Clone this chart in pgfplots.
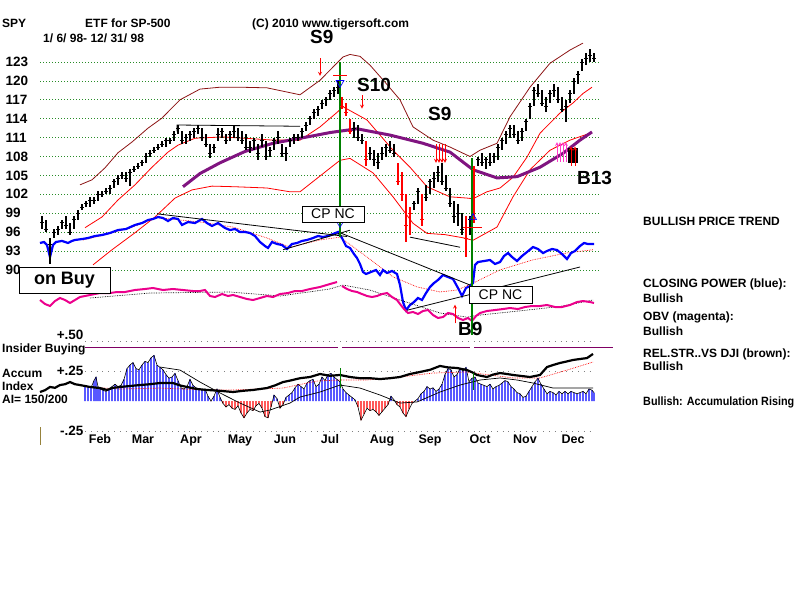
\documentclass[border=0pt]{standalone}
\usepackage{pgfplots}
\pgfplotsset{compat=1.18}
\usepackage{pgfplotstable}
\usepackage{fontspec}
\setmainfont{Liberation Sans}
\definecolor{brownband}{RGB}{140,20,20}
\definecolor{gridgreen}{RGB}{40,140,40}
\definecolor{mapurple}{RGB}{128,20,128}
\definecolor{insider}{RGB}{128,0,100}
\definecolor{sig}{RGB}{0,128,0}
\definecolor{olivebar}{RGB}{150,130,60}
\definecolor{pinkarrow}{RGB}{255,60,200}
\newcommand{\fs}[1]{\fontsize{#1}{#1}\selectfont}

% price bars: x high low close (x = horizontal chart position)
\pgfplotstableread{
x h l c
42 98.5 96.5 97.5
46 98 96 96.5
50 95 91 94
54 96.5 95 96
58 97 95.5 96.5
62 98 96.5 97.5
66 98.5 96.5 97
70 97.5 95.5 96
74 98.5 96.5 98
78 99.5 98 99
82 100.5 99.5 100
86 101 100 100.5
90 101.5 100 101
94 101.5 100.5 101
98 102.5 101 102
102 102.5 101.5 102
106 103 102 102.5
110 103.5 102 103
114 104.5 103 104
118 105 103.5 104.5
122 105.5 104.5 105
126 105.5 104 104.5
130 106 103.3 105.5
134 106.5 105.5 106
138 107 106 106.5
142 107.5 106.5 107
146 108.5 107 108
150 109 108 108.5
154 109.5 108.5 109
158 110 109 109.5
162 110.5 109.5 110
166 111 109.5 110.5
170 111 110 110.5
174 112 110.5 111.5
178 113 111.5 112.5
182 112 110 110.5
186 111.5 110 111
190 112 110.5 111.5
194 112.5 111 112
198 113 111.5 112.5
202 112.5 110.5 111
206 111.5 109.5 110
210 110 107.8 108.5
214 110 108.5 109.5
218 112.5 110.5 111.5
222 112.5 111 112
226 111.5 110 110.5
230 112 110.5 111.5
234 113 111 112
238 112.5 110.5 111
242 112 110 110.5
246 111.5 109 109.5
250 110.5 108.5 109.5
254 111 109 110.5
258 110 107.5 108.5
262 111.5 109.5 110.5
266 110.5 107.5 108
270 109.5 108 109
274 111 109 110.5
278 112 110 111
282 110 108 108.5
286 109.5 107.3 108.5
290 111 109.5 110.5
294 111.5 110 111
298 111.5 110.5 111
302 112.5 111 112
306 113.5 112 113
310 114.5 113 114
314 115.5 114 115
318 116 114.5 115.5
322 117 115.5 116.5
326 117.5 116 117
330 118.5 117 118
334 119 117.5 118.5
338 120 118 119
354 113.5 111 112.5
358 113 110.5 111
362 111.5 110 110.5
370 109.5 107.5 108.5
374 109 106.5 107.5
378 108.5 106 107
382 109.5 107.5 108.5
386 110 108 109.5
390 110.5 108.5 109
394 110 108 108.5
414 101 99.5 100.5
418 103 100.5 102.5
426 103.5 101 101.5
430 104.5 102 104
434 105.5 103 104.5
438 106.5 104 105.5
442 107 103.5 104
446 105 102.5 103
450 103 100 100.5
454 101 97.5 98.5
458 100.5 97 99
462 99 95.5 96.5
470 98.5 95.5 98
478 108 106.5 107.5
482 108.5 106.5 107
486 108 106 107.5
490 108.5 106.5 107
494 108.5 107 108
498 110 107.5 109.5
502 111 109 110.5
506 112 110 111.5
510 113 111 112.5
514 113 111 111.5
518 112 110 110.5
522 112.5 110.5 112
526 114 112 113.5
530 116.5 114 116
534 119 116 118.5
538 119.5 117.5 118
542 118.5 116 116.5
546 117.5 115 116
550 118.5 116.5 118
554 119.5 117.5 118.5
558 119 116.5 117
562 117.5 115 115.5
566 117 113.5 116
570 118.5 116.5 118
574 120.5 118 120
578 121.5 119.5 121
582 123.5 121.5 123
586 124.5 122.5 123.5
590 125 123 124
594 124.5 123 123.5
}\blackbars

\pgfplotstableread{
x h l c
342 117.5 115.5 116
346 116.5 114.5 115
350 114 111.5 112
366 110.5 106.5 107.5
398 107 103.5 104
402 105.5 101 102
406 102 94.5 97
410 100 95.5 99
422 102 97 98
466 98.5 92 95
474 106.5 97.5 106
}\redbars

% closing power (blue)
\pgfplotstableread{
x y
40 94.27
44 94.43
47 93.95
50 92.05
53 93.95
56 94.43
62 94.6
68 94.27
72 94.6
75 94.75
82 94.9
88 95.06
95 95.38
102 95.54
110 95.86
118 96.33
126 96.49
135 97.13
142 97.44
148 97.92
153 98.08
158 98.4
163 98.24
168 97.76
173 98.24
178 98.08
182 97.13
188 97.6
195 97.44
202 98.08
207 97.44
212 96.97
218 97.44
225 96.65
230 96.33
235 96.49
240 96.02
245 96.02
250 95.86
255 95.38
260 94.43
265 93.79
268 93.48
272 94.43
277 94.11
282 93.95
287 93.32
292 94.11
297 94.27
302 94.6
307 94.75
313 95.06
318 95.38
323 95.22
328 95.38
333 95.7
338 96.02
342 95.06
346 93.79
350 93.48
354 92.52
357 91.89
360 90.94
363 89.67
366 89.35
371 89.67
376 89.98
380 89.19
383 89.98
387 89.51
392 89.83
397 89.35
400 87.6
403 84.9
406 83.6
410 84.43
414 84.9
418 85.54
422 85.22
426 86.33
430 87.29
434 87.92
438 88.4
443 89.19
448 88.87
453 88.56
458 87.13
462 85.86
466 87.13
470 87.44
473 87.92
475 90.78
478 91.25
484 91.41
490 91.57
495 90.94
500 91.25
504 92.2
508 92.68
512 92.05
517 91.41
522 92.2
527 92.84
533 93.63
538 93.32
543 92.68
547 93.0
552 93.32
557 93.16
562 92.52
567 91.73
571 92.68
575 93.0
580 93.79
584 94.27
588 94.11
594 94.11
}\cpline

% accumulation index histogram
\pgfplotstableread{
x y
85 .13
88 .12
91 .11
94 .17
96 .2
98 .12
100 .1
103 .09
106 .08
109 .1
112 .12
115 .14
118 .12
121 .13
124 .18
127 .27
130 .3
133 .32
136 .27
139 .26
142 .3
145 .33
148 .32
151 .36
154 .38
157 .3
160 .28
163 .26
166 .22
169 .19
172 .2
175 .23
178 .17
181 .11
184 .1
187 .12
190 .18
193 .13
196 .11
199 .1
202 .09
205 .1
208 .04
211 0.0
214 .04
217 .1
220 .03
223 -.02
226 -.05
229 -.03
232 -.06
235 -.07
238 -.04
241 -.1
244 -.14
247 -.1
250 -.07
253 -.08
256 -.04
259 -.02
262 -.06
265 -.13
268 -.14
271 -.05
274 .05
277 .02
280 -.06
283 -.03
286 .03
289 .05
292 .07
295 .11
298 .14
301 .12
304 .1
307 .15
310 .17
313 .18
316 .12
319 .14
322 .2
325 .17
328 .22
331 .23
334 .2
337 .18
340 .16
343 .1
346 .07
349 .05
352 .03
355 .01
358 -.05
361 -.16
364 -.11
367 -.06
370 -.08
373 -.07
376 -.09
379 -.12
382 -.09
385 -.06
388 -.03
391 .04
394 .01
397 -.03
400 -.05
403 -.1
406 -.13
409 -.07
412 -.02
415 0.0
418 .02
421 .06
424 .08
427 .12
430 .1
433 .11
436 .08
439 .1
442 .14
445 .22
448 .27
451 .26
454 .2
457 .22
460 .27
463 .25
466 .28
469 .16
472 .19
475 .2
478 .15
481 .14
484 .13
487 .12
490 .14
493 .1
496 .12
499 .13
502 .15
505 .17
508 .16
511 .12
514 .1
517 .07
520 .06
523 .03
526 .04
529 .08
532 .12
535 .16
538 .19
541 .14
544 .1
547 .06
550 .08
553 .07
556 .05
559 .08
562 .06
565 .08
568 .06
571 .08
574 .07
577 .06
580 .07
583 .08
586 .06
589 .1
592 .09
594 .07
}\aidata

\begin{document}
\begin{tikzpicture}
\useasboundingbox (0pt,0pt) rectangle (800pt,-600pt);

%%%%%%%% price panel
\begin{axis}[at={(40pt,-332.9pt)}, anchor=south west, scale only axis,
  width=560pt, height=296.1pt, xmin=40, xmax=600, ymin=80, ymax=127,
  clip=false, axis line style={draw=none}, major tick length=0pt,
  xtick=\empty, ytick={90,93,...,123},
  yticklabels={90,93,96,99,102,105,108,111,114,117,120,123},
  yticklabel style={font=\fs{13.5}\bfseries, anchor=west, xshift=-38pt},
  ymajorgrids, grid style={gridgreen, line width=0.8pt, dash pattern=on 0.8pt off 2.2pt}]

% bands
\addplot[brownband, line width=0.8pt] coordinates {
(80,103.5) (92,104.3) (105,106.2) (118,108.6) (132,110.3) (148,112.5) (162,114.1)
(170,115.4) (180,117) (200,118.7) (220,119) (240,119) (267,118.9) (285,118.3)
(300,117.8) (320,120.1) (333,122.2) (343,123.8) (350,124.2) (360,123.9) (370,122.5)
(385,119.8) (400,117) (413,112.7) (433,110.6) (450,109.5) (470,108) (480,109)
(497,110.1) (510,114.3) (530,119) (550,122.8) (570,124.9) (583,126)};
\addplot[red, line width=0.8pt] coordinates {
(85,96.7) (102,98.4) (118,101.1) (135,103.5) (152,106.3) (168,108.7) (178,109.8)
(195,110.9) (222,111.1) (245,110.9) (273,110.6) (300,110.6) (320,112.7) (337,115)
(343,115.9) (367,113.8) (393,109) (410,106.3) (427,103.2) (450,101.6) (467,101.4)
(473,101.3) (487,102.4) (500,103) (513,104.7) (527,107.9) (540,111.7) (560,114.9)
(573,116.5) (583,118) (592,119)};
\addplot[red, line width=0.8pt] coordinates {
(93,90.8) (112,93.2) (135,95.9) (155,98.4) (175,101.4) (192,102.7) (212,103.3)
(235,103.2) (267,103) (290,102.4) (300,102.4) (320,104.9) (340,107.4) (350,107.7)
(373,105.4) (393,101.6) (413,97.4) (427,95.8) (445,95.6) (463,95.1) (473,94.7)
(497,96.8) (513,101.6) (530,105.9) (550,109) (570,110.6) (590,111.7)};
% moving average
\addplot[mapurple, line width=3pt] coordinates {
(183,103.2) (200,105.3) (220,107) (245,108.8) (273,110.1) (307,111.1) (330,111.8)
(357,112.4) (390,111.4) (423,110.1) (450,108.7) (473,105.9) (497,104.6) (517,104.8)
(540,106.3) (563,108.5) (580,110.6) (592,111.9)};

% closing power and its average
\addplot[red, line width=0.7pt, densely dotted] coordinates {
(83,94.75) (100,95.38) (130,96.65) (157,98.3) (200,97.6) (233,96.8) (267,95.06)
(290,93.6) (320,94.75) (340,95.2) (367,92.05) (393,88.9) (417,87.3) (440,86.5)
(457,86.8) (473,87.9) (500,90) (533,91.6) (567,92.7) (593,93.2)};
\addplot[blue, line width=2.2pt] table {\cpline};

% OBV (magenta) and its average
\addplot[black, line width=0.7pt, densely dotted] coordinates {
(90,85.54) (150,86.33) (230,86.49) (280,85.86) (330,86.97) (343,87.6) (370,86.8)
(400,85.22) (440,83.16) (467,82.5) (480,82.84) (520,83.5) (560,84.2) (593,85.22)};
\addplot[magenta, line width=2pt] coordinates {
(40,85.22) (45,84.59) (50,84.27) (55,85.06) (60,85.54) (65,85.22) (70,84.75)
(75,85.22) (80,85.7) (90,86.02) (100,86.33) (110,86.33) (117,86.49) (125,86.49)
(135,86.81) (145,86.97) (153,87.13) (163,86.81) (173,86.97) (183,86.81) (193,86.65)
(200,86.65) (205,86.81) (210,85.86) (215,85.7) (222,86.17) (228,85.86) (233,86.02)
(240,85.7) (247,85.38) (253,85.22) (260,85.54) (267,85.86) (273,85.7) (280,86.17)
(288,86.33) (295,86.65) (302,86.65) (310,86.97) (320,87.29) (330,87.76) (337,88.08)};
\addplot[magenta, line width=2pt] coordinates {
(342,87.44) (347,86.97) (352,86.65) (357,86.49) (362,86.17) (367,85.86) (372,85.7)
(377,85.86) (382,86.17) (387,86.33) (392,85.7) (397,85.22) (400,84.59) (404,83.79)
(408,83.16) (413,83.32) (418,83.0) (423,83.48) (428,83.63) (433,82.84) (438,82.37)
(443,82.52) (448,83.16) (453,83.0) (458,82.37) (463,82.05) (468,82.37) (472,81.89)
(476,82.68) (480,83.16) (487,83.48) (495,83.63) (503,83.79) (510,83.95) (518,83.79)
(525,84.11) (532,84.27) (540,84.27) (547,84.43) (555,84.11) (562,84.11) (570,84.43)
(577,84.9) (583,85.06) (590,84.9) (594,84.75)};

% trend lines
\addplot[black, line width=0.8pt] coordinates {(177,112) (177,113) (300,112.8)};
\addplot[black, line width=0.8pt] coordinates {(157,98.9) (347,95.3)};
\addplot[black, line width=0.8pt] coordinates {(340,95.9) (470,87.6)};
\addplot[black, line width=0.8pt] coordinates {(283,93.2) (350,96.3)};
\addplot[black, line width=0.8pt] coordinates {(407,83.6) (580,90.46)};
\addplot[black, line width=0.8pt] coordinates {(410,95.2) (460,93.6)};

% signal lines
\addplot[sig, line width=1.2pt] coordinates {(340,123) (340,95.2)};
\addplot[sig, line width=1.2pt] coordinates {(472,107.8) (472,79.7)};

% price bars
\addplot[black, only marks, mark=-, mark size=1.8pt, mark options={line width=0.8pt},
  error bars/.cd, y dir=both, y explicit, error mark=none,
  error bar style={line width=1.3pt, black}]
  table[x=x, y=c, y error plus expr=\thisrow{h}-\thisrow{c}, y error minus expr=\thisrow{c}-\thisrow{l}] {\blackbars};
\addplot[red, only marks, mark=-, mark size=1.8pt, mark options={line width=0.8pt},
  error bars/.cd, y dir=both, y explicit, error mark=none,
  error bar style={line width=1.3pt, red}]
  table[x=x, y=c, y error plus expr=\thisrow{h}-\thisrow{c}, y error minus expr=\thisrow{c}-\thisrow{l}] {\redbars};

% signal markers
\addplot[red, line width=0.8pt, -stealth] coordinates {(320,123.6) (320,120.8)};
\addplot[red, line width=0.8pt] coordinates {(333,120.9) (347,120.9)};
\addplot[blue, only marks, mark=triangle, mark size=4.5pt, mark options={rotate=180, line width=0.7pt}] coordinates {(340,119.7)};
\addplot[red, line width=0.8pt, -stealth] coordinates {(362,117.7) (362,115.6)};
\addplot[red, line width=0.8pt, -stealth] coordinates {(436,110) (436,107)};
\addplot[red, line width=0.8pt, -stealth] coordinates {(439,110) (439,107)};
\addplot[red, line width=0.8pt, -stealth] coordinates {(442,110) (442,107)};
\addplot[red, line width=0.8pt, -stealth] coordinates {(445,110) (445,107)};
\addplot[blue, only marks, mark=triangle, mark size=4pt, mark options={line width=0.7pt}] coordinates {(473,98.3)};
\addplot[red, line width=0.8pt] coordinates {(463,96.8) (482,96.8)};
\addplot[blue, only marks, mark=triangle, mark size=3.5pt, mark options={rotate=180, line width=0.6pt}] coordinates {(340,97.3)};
\addplot[red, line width=0.8pt, -stealth] coordinates {(455,81.5) (455,84.5)};
\addplot[black, line width=10pt] coordinates {(573,109.3) (573,106.9)};
\addplot[pinkarrow, line width=0.8pt, -stealth] coordinates {(557,107.2) (557,110.3)};
\addplot[pinkarrow, line width=0.8pt, -stealth] coordinates {(560,107.2) (560,110.3)};
\addplot[pinkarrow, line width=0.8pt, -stealth] coordinates {(563,107.2) (563,110.3)};
\addplot[pinkarrow, line width=0.8pt, -stealth] coordinates {(566,107.2) (566,110.3)};
\addplot[red, line width=0.8pt, -stealth] coordinates {(571,106.5) (571,109.6)};
\addplot[red, line width=0.8pt, -stealth] coordinates {(575,106.5) (575,109.6)};
\end{axis}

%%%%%%%% accumulation panel
\begin{axis}[at={(40pt,-431pt)}, anchor=south west, scale only axis,
  width=560pt, height=101pt, xmin=40, xmax=600, ymin=-0.25, ymax=0.5917,
  clip=false, axis line style={draw=none}, major tick length=0pt,
  xtick={100,143,191,240,285,330,382,430,480,525,573},
  xticklabels={Feb,Mar,Apr,May,Jun,Jul,Aug,Sep,Oct,Nov,Dec},
  xticklabel style={font=\fs{12.5}\bfseries},
  ytick={-0.25,0.25}, yticklabels={-.25,+.25},
  yticklabel style={font=\fs{13.5}\bfseries, xshift=47pt},
  extra y ticks={0.5}, extra y tick labels={+.50},
  extra y tick style={yticklabel style={yshift=6.5pt}}]

\addplot[gray, line width=0.8pt, dash pattern=on 0.8pt off 5pt] coordinates {(85,0.5) (592,0.5)};
\addplot[gray, line width=0.8pt, dash pattern=on 0.8pt off 5pt] coordinates {(85,0.25) (592,0.25)};
\addplot[gray, line width=0.8pt, dash pattern=on 0.8pt off 5pt] coordinates {(85,-0.25) (592,-0.25)};
\addplot[insider, line width=1pt] coordinates {(85,0.45) (338,0.45)};
\addplot[insider, line width=1pt] coordinates {(342,0.45) (470,0.45)};
\addplot[insider, line width=1pt] coordinates {(474,0.45) (613,0.45)};

\addplot[ybar, bar width=1.2pt, bar shift=0pt, fill=blue, draw=none, restrict y to domain=0:1] table {\aidata};
\addplot[ybar, bar width=1.2pt, bar shift=0pt, fill=red, draw=none, restrict y to domain=-1:0] table {\aidata};
\addplot[black, line width=0.6pt] table {\aidata};

% average of the index
\addplot[black, line width=0.7pt] coordinates {
(160,.283) (180,.258) (200,.158) (220,.067) (240,-.017) (260,-.092) (270,-.075)
(290,-.017) (300,.033) (320,.075) (340,.133) (360,.108) (380,.05) (400,-.017)
(417,-.008) (440,.075) (460,.133) (480,.175) (500,.192) (517,.175) (533,.15)
(553,.108) (573,.108) (593,.108)};
% relative strength and its average
\addplot[red, line width=0.7pt, densely dotted] coordinates {
(87,.117) (120,.1) (160,.108) (207,.092) (233,.092) (283,.108) (317,.167) (340,.175)
(367,.175) (400,.2) (433,.233) (467,.242) (513,.192) (540,.192) (567,.258) (593,.325)};
\addplot[black, line width=2.2pt] coordinates {
(40,.075) (45,.09) (50,.117) (55,.11) (60,.133) (65,.14) (70,.158) (75,.14) (80,.133)
(90,.117) (100,.108) (107,.092) (113,.11) (120,.117) (130,.125) (140,.133) (150,.14)
(160,.15) (173,.15) (180,.13) (187,.117) (197,.1) (207,.092) (220,.085) (233,.075)
(243,.085) (253,.092) (260,.1) (267,.108) (275,.13) (283,.158) (290,.17) (300,.19)
(310,.2) (320,.225) (330,.21) (340,.217) (350,.2) (360,.19) (370,.19) (380,.183)
(390,.19) (400,.2) (410,.225) (420,.242) (430,.26) (440,.292) (448,.28) (457,.275)
(467,.258) (472,.24) (477,.217) (487,.2) (493,.22) (500,.233) (507,.225) (513,.217)
(520,.21) (530,.2) (540,.217) (547,.283) (553,.3) (560,.317) (567,.33) (573,.342)
(580,.35) (587,.358) (593,.392)};
\addplot[sig, line width=1pt] coordinates {(340,.275) (340,.108)};
\addplot[sig, line width=1pt] coordinates {(473,.233) (473,.092)};
\end{axis}

%%%%%%%% texts
\draw[olivebar, line width=1pt] (40pt,-427pt) -- (40pt,-445pt);
\begin{scope}[every node/.style={inner sep=0pt, anchor=base west}]
\node[font=\fs{12}\bfseries] at (2pt,-27pt) {SPY};
\node[font=\fs{12}\bfseries] at (85pt,-27pt) {ETF for SP-500};
\node[font=\fs{12}\bfseries] at (252pt,-27pt) {(C) 2010 www.tigersoft.com};
\node[font=\fs{12}\bfseries] at (43pt,-42pt) {1/ 6/ 98- 12/ 31/ 98};
\node[font=\fs{12}\bfseries] at (2pt,-352pt) {Insider Buying};
\node[font=\fs{12}\bfseries] at (2pt,-377pt) {Accum};
\node[font=\fs{12}\bfseries] at (2pt,-390pt) {Index};
\node[font=\fs{12}\bfseries] at (2pt,-403pt) {AI= 150/200};
\node[font=\fs{12}\bfseries] at (643pt,-225pt) {BULLISH PRICE TREND};
\node[font=\fs{12}\bfseries] at (643pt,-287pt) {CLOSING POWER (blue):};
\node[font=\fs{12}\bfseries] at (643pt,-302pt) {Bullish};
\node[font=\fs{12}\bfseries] at (643pt,-320pt) {OBV (magenta):};
\node[font=\fs{12}\bfseries] at (643pt,-335pt) {Bullish};
\node[font=\fs{12}\bfseries] at (643pt,-357pt) {REL.STR..VS DJI (brown):};
\node[font=\fs{12}\bfseries] at (643pt,-370pt) {Bullish};
\node[font=\fs{12}\bfseries] at (643pt,-405pt) {\scalebox{0.9}[1]{Bullish: Accumulation Rising}};
\node[font=\fs{19}\bfseries] at (310pt,-43pt) {S9};
\node[font=\fs{19}\bfseries] at (357pt,-91pt) {S10};
\node[font=\fs{19}\bfseries] at (428pt,-120pt) {S9};
\node[font=\fs{19}\bfseries] at (577pt,-184pt) {B13};
\node[font=\fs{19}\bfseries] at (458pt,-335pt) {B9};
\end{scope}
\node[draw=black, fill=white, line width=0.8pt, inner sep=0pt, minimum width=91pt, minimum height=26pt, font=\fs{18}\bfseries] at (64.5pt,-280pt) {on Buy};
\node[draw=black, fill=white, line width=0.8pt, inner sep=0pt, minimum width=62pt, minimum height=16pt, font=\fs{14}] at (333pt,-214pt) {CP NC};
\node[draw=black, fill=white, line width=0.8pt, inner sep=0pt, minimum width=63pt, minimum height=17pt, font=\fs{14}] at (500.5pt,-294.5pt) {CP NC};
\end{tikzpicture}
\end{document}
